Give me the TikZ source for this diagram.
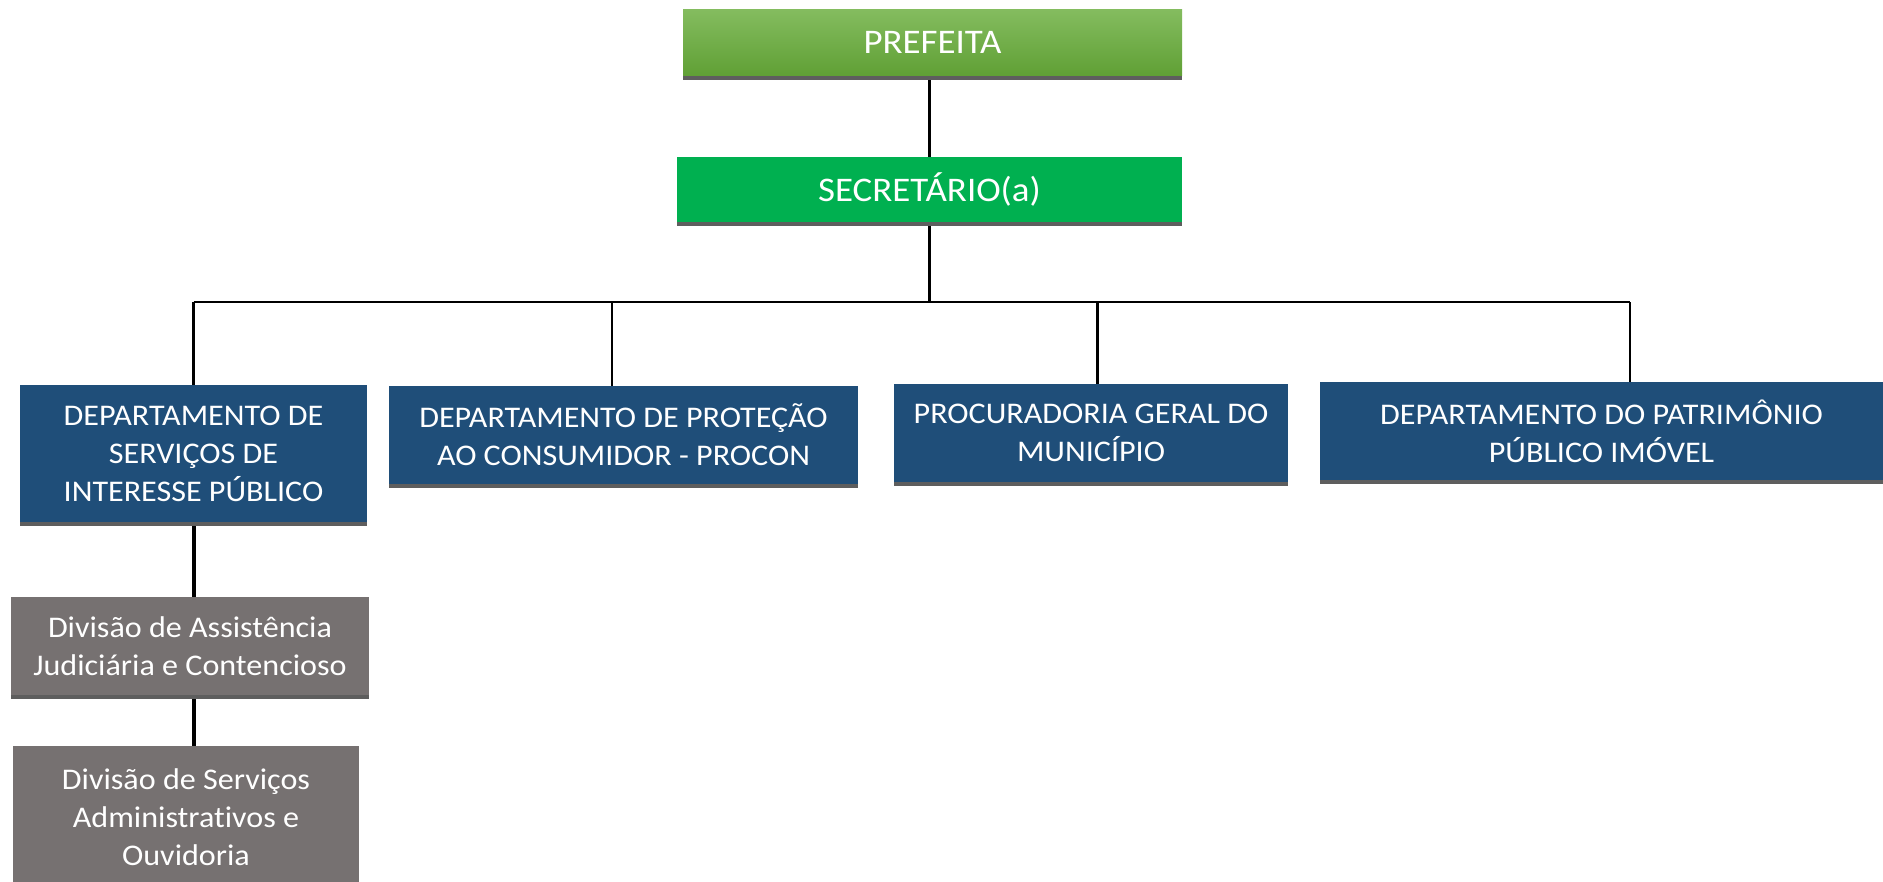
\documentclass[tikz,border=0pt]{standalone}
\usepackage{fontspec}
\setmainfont{Carlito}[FakeStretch=1.07,Ligatures=CommonOff]
\usetikzlibrary{backgrounds}
\definecolor{bluebox}{HTML}{1F4E79}
\definecolor{graybox}{HTML}{767171}
\definecolor{greensec}{HTML}{00B050}
\definecolor{greentop}{HTML}{84BC5F}
\definecolor{greenbot}{HTML}{60A035}
\definecolor{shadowgray}{HTML}{5E5E5E}
\tikzset{
  box/.style={rectangle, inner sep=0pt, text=white, align=center,
    font=\fontsize{30}{38}\selectfont},
  topbox/.style={box, font=\fontsize{34.5}{40}\selectfont},
  conn/.style={line width=2.5pt, black},
  thickconn/.style={line width=4pt, black},
}
\begin{document}
\begin{tikzpicture}[x=1pt,y=-1pt]
\useasboundingbox (0,0) rectangle (1883,882);
\node[topbox, top color=greentop, bottom color=greenbot, minimum width=499pt, minimum height=66pt] (pref) at (932.5,42.5) {PREFEITA};
\node[topbox, fill=greensec, minimum width=505pt, minimum height=65pt] (sec) at (929.5,189.5) {SECRETÁRIO(a)};
\node[box, fill=bluebox, minimum width=347pt, minimum height=137pt] (d1) at (193.5,453.5) {DEPARTAMENTO DE\\SERVIÇOS DE\\INTERESSE PÚBLICO};
\node[box, fill=bluebox, minimum width=469pt, minimum height=98pt] (d2) at (623.5,435) {DEPARTAMENTO DE PROTEÇÃO\\AO CONSUMIDOR - PROCON};
\node[box, fill=bluebox, minimum width=394pt, minimum height=98pt] (d3) at (1091,433) {PROCURADORIA GERAL DO\\MUNICÍPIO};
\node[box, fill=bluebox, minimum width=563pt, minimum height=98pt] (d4) at (1601.5,431) {DEPARTAMENTO DO PATRIMÔNIO\\PÚBLICO IMÓVEL};
\node[box, fill=graybox, minimum width=358pt, minimum height=98pt] (v1) at (190,646) {Divisão de Assistência\\Judiciária e Contencioso};
\node[box, fill=graybox, minimum width=346pt, minimum height=142pt] (v2) at (186,817) {Divisão de Serviços\\Administrativos e\\Ouvidoria};
\foreach \n in {pref,sec,d1,d2,d3,d4,v1} {
  \fill[shadowgray] (\n.south west) rectangle ([yshift=-4pt]\n.south east);
}
\coordinate (bus) at (930,302);
\begin{pgfonlayer}{background}
  \draw[conn] (sec.north) -- (sec.north |- pref.south);
  \draw[conn] (sec.south) -- (sec.south |- bus);
  \draw[conn] (d1.north |- bus) -- ([xshift=28.5pt]d4.north |- bus);
  \draw[conn] (d1.north) -- (d1.north |- bus);
  \draw[conn] ([xshift=-11.5pt]d2.north) -- ([xshift=-11.5pt]d2.north |- bus);
  \draw[conn] ([xshift=6.5pt]d3.north) -- ([xshift=6.5pt]d3.north |- bus);
  \draw[conn] ([xshift=28.5pt]d4.north) -- ([xshift=28.5pt]d4.north |- bus);
  \draw[thickconn] (d1.south) -- (d1.south |- v1.north);
  \draw[thickconn] (d1.south |- v1.south) -- (d1.south |- v2.north);
\end{pgfonlayer}
\end{tikzpicture}
\end{document}
